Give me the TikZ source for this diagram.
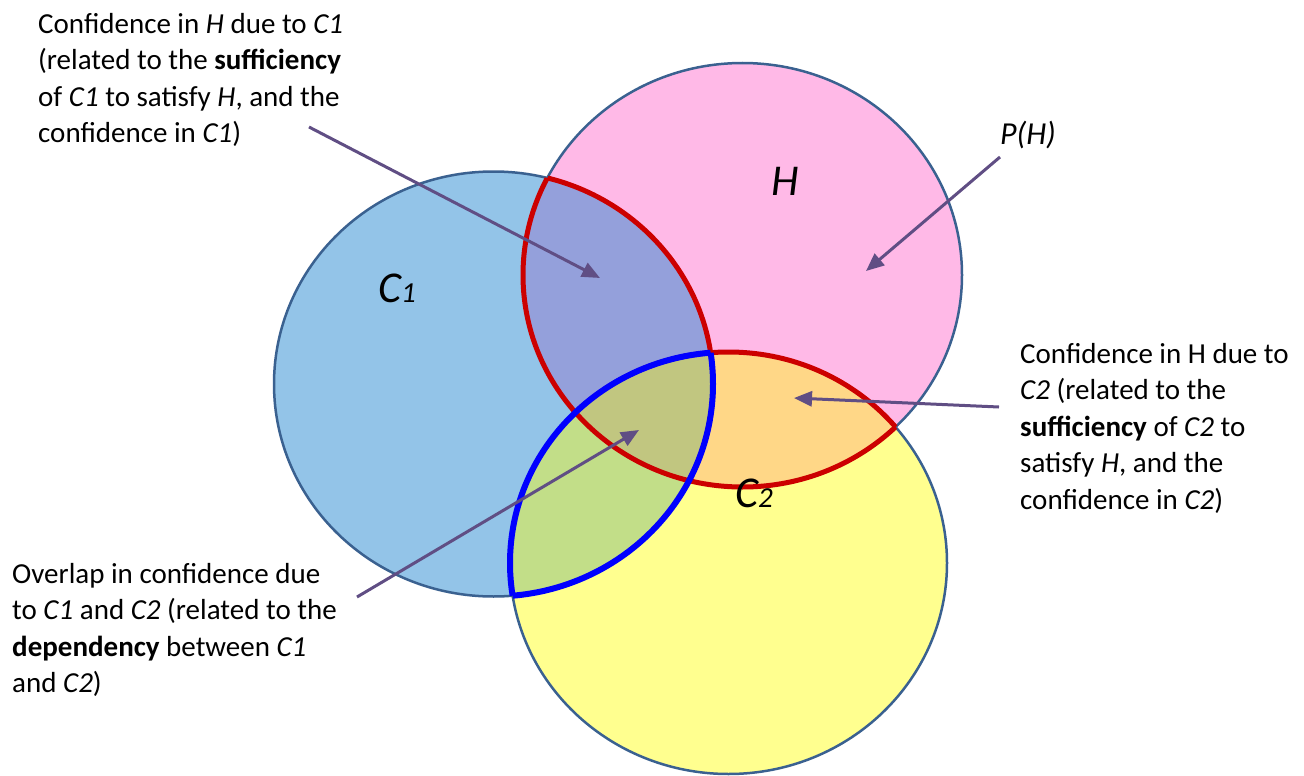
\documentclass[tikz,border=0pt]{standalone}
\usepackage{fontspec}
\setmainfont{Carlito}
\usetikzlibrary{arrows.meta}
\definecolor{cOne}{HTML}{93C4E8}
\definecolor{cH}{HTML}{FFB9E7}
\definecolor{cTwo}{HTML}{FFFF8F}
\definecolor{cOneH}{HTML}{94A0DB}
\definecolor{cOneTwo}{HTML}{C2DE88}
\definecolor{cHTwo}{HTML}{FFD787}
\definecolor{cAll}{HTML}{C1C680}
\definecolor{outl}{HTML}{3A6190}
\definecolor{redl}{HTML}{CC0000}
\definecolor{bluel}{HTML}{0000FF}
\definecolor{arrc}{HTML}{604E84}
\newcommand*\lowsub[1]{{\fontsize{29}{30}\selectfont #1}}
\tikzset{
  pOne/.style={insert path={(493.5,384) ellipse [x radius=219.5pt, y radius=212.5pt]}},
  pH/.style={insert path={(742.5,275) ellipse [x radius=219.5pt, y radius=212pt]}},
  pTwo/.style={insert path={(728.5,563) ellipse [x radius=218.5pt, y radius=211pt]}},
  rim/.style={draw=outl, line width=2.5pt},
  redrim/.style={draw=redl, line width=5pt},
  bluerim/.style={draw=bluel, line width=6pt},
  txt/.style={font=\fontsize{29}{36.5}\selectfont, align=left, inner sep=0pt, anchor=north west},
  lbl/.style={font=\fontsize{44}{50}\selectfont\itshape, inner sep=0pt},
  pointer/.style={draw=arrc, line width=3pt, -{Triangle[length=18pt, width=15pt]}}
}
\begin{document}
\begin{tikzpicture}[x=1pt,y=-1pt]
\useasboundingbox (0,0) rectangle (1304,776);
% base fills
\fill[cOne, pOne];
\fill[cH, pH];
\fill[cTwo, pTwo];
% overlaps
\begin{scope}\clip[pOne]; \fill[cOneH, pH]; \end{scope}
\begin{scope}\clip[pOne]; \fill[cOneTwo, pTwo]; \end{scope}
\begin{scope}\clip[pH]; \fill[cHTwo, pTwo]; \end{scope}
\begin{scope}\clip[pOne]; \clip[pH]; \fill[cAll, pTwo]; \end{scope}
% outlines
\path[rim, pOne];
\path[rim, pH];
\path[rim, pTwo];
% red outline of H within C1 or C2
\begin{scope}\clip[pOne, pTwo]; \path[redrim, pH]; \end{scope}
\begin{scope}\clip[pH]; \path[redrim, pOne]; \path[redrim, pTwo]; \end{scope}
% blue outline of C1 and C2 overlap
\begin{scope}\clip[pTwo]; \path[bluerim, pOne]; \end{scope}
\begin{scope}\clip[pOne]; \path[bluerim, pTwo]; \end{scope}
% labels
\node[lbl] (lH) at (785,181) {H};
\node[lbl, anchor=base west] (lC1) at (378,302) {C\lowsub{1}};
\node[lbl, anchor=base west] (lC2) at (735,507) {C\lowsub{2}};
\node[font=\fontsize{32}{36.5}\selectfont\itshape, inner sep=0pt] (lPH) at (1028,135) {P(H)};
% texts
\node[txt] (t1) at (38,13) {Confidence in \textit{H} due to \textit{C1}\\(related to the \textbf{sufficiency}\\of \textit{C1} to satisfy \textit{H}, and the\\confidence in \textit{C1})};
\node[txt] (t2) at (1020,343) {Confidence in H due to\\\textit{C2} (related to the\\\textbf{sufficiency} of \textit{C2} to\\satisfy \textit{H}, and the\\confidence in \textit{C2})};
\node[txt] (t3) at (12,563) {Overlap in confidence due\\to \textit{C1} and \textit{C2} (related to the\\\textbf{dependency} between \textit{C1}\\and \textit{C2})};
% arrows
\coordinate (a1s) at (309,127); \coordinate (a1e) at (600,278);
\coordinate (a2s) at (1000,157); \coordinate (a2e) at (866,271);
\coordinate (a3s) at (999,407); \coordinate (a3e) at (794,398);
\coordinate (a4s) at (357,597); \coordinate (a4e) at (639,430);
\draw[pointer] (a1s) -- (a1e);
\draw[pointer] (a2s) -- (a2e);
\draw[pointer] (a3s) -- (a3e);
\draw[pointer] (a4s) -- (a4e);
\end{tikzpicture}
\end{document}
